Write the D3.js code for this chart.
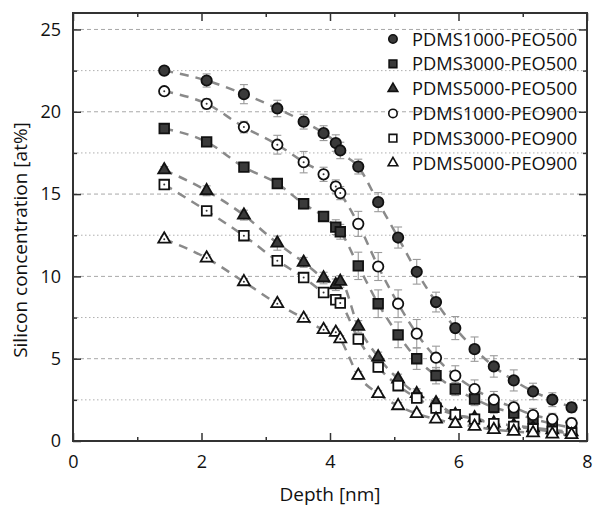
<!DOCTYPE html>
<html>
<head>
<meta charset="utf-8">
<script src="https://cdn.jsdelivr.net/npm/d3@7"></script>
<style>
  body { margin: 0; background: #fff; }
  text { font-family: "Open Sans", sans-serif; fill: #111; }
</style>
</head>
<body>
<div id="chart"></div>
<script>
const width = 593;
const height = 508;
const margin = { top: 13, right: 6, bottom: 67, left: 73 };

// depth positions shared by every sample (nm)
const depth = [1.42, 2.08, 2.66, 3.18, 3.59, 3.90, 4.09, 4.16, 4.44, 4.75, 5.06, 5.35, 5.65, 5.95, 6.25, 6.55, 6.86, 7.16, 7.46, 7.76];

const seriesNames = ['PDMS1000-PEO500', 'PDMS3000-PEO500', 'PDMS5000-PEO500', 'PDMS1000-PEO900', 'PDMS3000-PEO900', 'PDMS5000-PEO900'];

const pdms1000peo500 = [22.5, 21.9, 21.07, 20.2, 19.4, 18.7, 18.1, 17.65, 16.67, 14.51, 12.36, 10.28, 8.44, 6.86, 5.58, 4.53, 3.68, 3.01, 2.51, 2.04];
const pdms3000peo500 = [18.98, 18.17, 16.64, 15.64, 14.41, 13.64, 12.99, 12.71, 10.64, 8.34, 6.45, 5.0, 3.97, 3.16, 2.55, 2.04, 1.7, 1.35, 1.05, 0.8];
const pdms5000peo500 = [16.47, 15.2, 13.72, 12.02, 10.85, 9.9, 9.49, 9.69, 6.96, 5.1, 3.76, 2.87, 2.31, 1.6, 1.4, 1.09, 0.95, 0.8, 0.68, 0.55];
const pdms1000peo900 = [21.25, 20.48, 19.07, 18.0, 16.94, 16.2, 15.46, 15.06, 13.19, 10.6, 8.34, 6.52, 5.06, 3.97, 3.16, 2.51, 2.04, 1.58, 1.33, 1.09];
const pdms3000peo900 = [15.58, 13.98, 12.47, 10.95, 9.93, 9.02, 8.58, 8.38, 6.19, 4.49, 3.36, 2.61, 2.0, 1.6, 1.33, 1.05, 0.89, 0.73, 0.58, 0.49];
const pdms5000peo900 = [12.26, 11.11, 9.67, 8.34, 7.45, 6.76, 6.6, 6.2, 3.98, 2.87, 2.14, 1.66, 1.33, 1.05, 0.89, 0.69, 0.58, 0.49, 0.42, 0.38];

// error bar half-heights
const err1000peo500 = [0.2, 0.4, 0.58, 0.5, 0.45, 0.45, 0.5, 0.5, 0.45, 0.58, 0.64, 0.75, 0.6, 0.7, 0.74, 0.65, 0.64, 0.5, 0.42, 0.3];
const err3000peo500 = [0.15, 0.2, 0.25, 0.3, 0.3, 0.3, 0.45, 0.45, 0.83, 0.84, 0.78, 0.65, 0.5, 0.4, 0.4, 0.35, 0.3, 0.3, 0.25, 0.25];
const err5000peo500 = [0.2, 0.3, 0.3, 0.43, 0.3, 0.35, 0.35, 0.35, 0.35, 0.3, 0.3, 0.3, 0.25, 0.25, 0.25, 0.2, 0.2, 0.2, 0.2, 0.2];
const err1000peo900 = [0.15, 0.3, 0.35, 0.57, 0.65, 0.43, 0.4, 0.4, 0.76, 0.85, 0.84, 0.86, 0.7, 0.6, 0.55, 0.5, 0.4, 0.4, 0.35, 0.3];
const err3000peo900 = [0.15, 0.2, 0.2, 0.25, 0.25, 0.25, 0.25, 0.25, 0.3, 0.3, 0.25, 0.25, 0.2, 0.2, 0.2, 0.2, 0.2, 0.2, 0.15, 0.15];
const err5000peo900 = [0.15, 0.2, 0.2, 0.2, 0.2, 0.2, 0.2, 0.2, 0.25, 0.2, 0.2, 0.2, 0.15, 0.15, 0.15, 0.15, 0.15, 0.15, 0.15, 0.15];

const xTicks = [0, 2, 4, 6, 8];
const xMinor = [1, 3, 5, 7];
const yTicks = [0, 5, 10, 15, 20, 25];
const yMinor = [2.5, 7.5, 12.5, 17.5, 22.5];

const values = [pdms1000peo500, pdms3000peo500, pdms5000peo500, pdms1000peo900, pdms3000peo900, pdms5000peo900];
const errors = [err1000peo500, err3000peo500, err5000peo500, err1000peo900, err3000peo900, err5000peo900];
const shapes = [d3.symbolCircle, d3.symbolSquare, d3.symbolTriangle, d3.symbolCircle, d3.symbolSquare, d3.symbolTriangle];
const filled = [true, true, true, false, false, false];

const series = seriesNames.map((name, i) => ({
    name: name,
    shape: shapes[i],
    filled: filled[i],
    points: depth.map((d, j) => ({ x: d, y: values[i][j], e: errors[i][j] }))
}));

const innerW = width - margin.left - margin.right;
const innerH = height - margin.top - margin.bottom;

const x = d3.scaleLinear().domain([0, 8]).range([0, innerW]);
const y = d3.scaleLinear().domain([0, 26]).range([innerH, 0]);

const svg = d3.select('#chart')
    .append('svg')
    .attr('width', width)
    .attr('height', height);

const g = svg.append('g')
    .attr('transform', 'translate(' + margin.left + ',' + margin.top + ')');

// grid lines
g.append('g')
    .selectAll('line')
    .data(yTicks.filter((d) => d > 0))
    .enter()
    .append('line')
    .attr('x1', 0)
    .attr('x2', innerW)
    .attr('y1', (d) => y(d))
    .attr('y2', (d) => y(d))
    .attr('stroke', '#a8a8a8')
    .attr('stroke-width', 1)
    .attr('stroke-dasharray', '4,3');

g.append('g')
    .selectAll('line')
    .data(yMinor)
    .enter()
    .append('line')
    .attr('x1', 0)
    .attr('x2', innerW)
    .attr('y1', (d) => y(d))
    .attr('y2', (d) => y(d))
    .attr('stroke', '#b0b0b0')
    .attr('stroke-width', 1)
    .attr('stroke-dasharray', '1.5,2.5');

// axes with inward ticks on all four sides
function styleAxis(sel) {
    sel.select('.domain').remove();
    sel.selectAll('.tick line').attr('stroke', '#333').attr('stroke-width', 1.5);
    sel.selectAll('.tick text').style('font-family', '"Open Sans", sans-serif').style('font-size', '18px').attr('fill', '#111');
}

g.append('g')
    .attr('transform', 'translate(0,' + innerH + ')')
    .call(d3.axisBottom(x).tickValues(xTicks).tickSize(-8).tickPadding(14).tickFormat(d3.format('d')))
    .call(styleAxis);
g.append('g')
    .attr('transform', 'translate(0,' + innerH + ')')
    .call(d3.axisBottom(x).tickValues(xMinor).tickSize(-4).tickFormat(''))
    .call(styleAxis);
g.append('g')
    .call(d3.axisTop(x).tickValues(xTicks).tickSize(-8).tickFormat(''))
    .call(styleAxis);
g.append('g')
    .call(d3.axisTop(x).tickValues(xMinor).tickSize(-4).tickFormat(''))
    .call(styleAxis);

g.append('g')
    .call(d3.axisLeft(y).tickValues(yTicks).tickSize(-8).tickPadding(12).tickFormat(d3.format('d')))
    .call(styleAxis);
g.append('g')
    .call(d3.axisLeft(y).tickValues(yMinor).tickSize(-4).tickFormat(''))
    .call(styleAxis);
g.append('g')
    .attr('transform', 'translate(' + innerW + ',0)')
    .call(d3.axisRight(y).tickValues(yTicks).tickSize(-8).tickFormat(''))
    .call(styleAxis);
g.append('g')
    .attr('transform', 'translate(' + innerW + ',0)')
    .call(d3.axisRight(y).tickValues(yMinor).tickSize(-4).tickFormat(''))
    .call(styleAxis);

// frame
g.append('rect')
    .attr('width', innerW)
    .attr('height', innerH)
    .attr('fill', 'none')
    .attr('stroke', '#333')
    .attr('stroke-width', 2);

g.append('clipPath')
    .attr('id', 'plot-clip')
    .append('rect')
    .attr('width', innerW)
    .attr('height', innerH);

// dashed guide curves
const line = d3.line()
    .x((d) => x(d.x))
    .y((d) => y(d.y))
    .curve(d3.curveMonotoneX);

g.append('g')
    .attr('clip-path', 'url(#plot-clip)')
    .selectAll('path')
    .data(series)
    .enter()
    .append('path')
    .attr('d', (d) => line(d.points))
    .attr('fill', 'none')
    .attr('stroke', '#8a8a8a')
    .attr('stroke-width', 2.5)
    .attr('stroke-dasharray', '9,7');

// error bars
const errGroup = g.append('g');
series.forEach((s) => {
    const eb = errGroup.append('g')
        .selectAll('g')
        .data(s.points)
        .enter()
        .append('g')
        .attr('stroke', '#9a9a9a')
        .attr('stroke-width', 1.1);
    eb.append('line')
        .attr('x1', (d) => x(d.x))
        .attr('x2', (d) => x(d.x))
        .attr('y1', (d) => y(d.y - d.e))
        .attr('y2', (d) => y(d.y + d.e));
    eb.append('line')
        .attr('x1', (d) => x(d.x) - 4)
        .attr('x2', (d) => x(d.x) + 4)
        .attr('y1', (d) => y(d.y + d.e))
        .attr('y2', (d) => y(d.y + d.e));
    eb.append('line')
        .attr('x1', (d) => x(d.x) - 4)
        .attr('x2', (d) => x(d.x) + 4)
        .attr('y1', (d) => y(d.y - d.e))
        .attr('y2', (d) => y(d.y - d.e));
});

// markers
function symbolSize(shape, scale) {
    if (shape === d3.symbolCircle) return 85 * scale;
    if (shape === d3.symbolSquare) return 92 * scale;
    return 62 * scale;
}

series.forEach((s) => {
    const m = g.append('g')
        .selectAll('g')
        .data(s.points)
        .enter()
        .append('g')
        .attr('transform', (d) => 'translate(' + x(d.x) + ',' + y(d.y) + ')');
    m.append('path')
        .attr('d', d3.symbol().type(s.shape).size(symbolSize(s.shape, 1)))
        .attr('fill', s.filled ? '#3a3a3a' : '#fff')
        .attr('stroke', '#111')
        .attr('stroke-width', 1.8);
    if (!s.filled) {
        m.filter((d) => d.x < 4.3)
            .append('circle')
            .attr('r', 1)
            .attr('fill', '#333');
    }
});

// legend
const legend = g.append('g')
    .attr('transform', 'translate(' + x(4.98) + ',' + 26 + ')');

const legendItem = legend.selectAll('g')
    .data(series)
    .enter()
    .append('g')
    .attr('transform', (d, i) => 'translate(0,' + i * 24.8 + ')');

legendItem.append('path')
    .attr('d', (d) => d3.symbol().type(d.shape).size(symbolSize(d.shape, 0.65))())
    .attr('fill', (d) => d.filled ? '#3a3a3a' : '#fff')
    .attr('stroke', '#111')
    .attr('stroke-width', 1.6);

legendItem.append('text')
    .attr('x', 19)
    .attr('y', 6.5)
    .style('font-size', '18.3px')
    .text((d) => d.name);

// axis titles
svg.append('text')
    .attr('x', margin.left + innerW / 2)
    .attr('y', 501)
    .attr('text-anchor', 'middle')
    .style('font-size', '19px')
    .text('Depth [nm]');

svg.append('text')
    .attr('transform', 'translate(27,' + 240 + ') rotate(-90)')
    .attr('text-anchor', 'middle')
    .style('font-size', '19px')
    .text('Silicon concentration [at%]');
</script>
</body>
</html>
